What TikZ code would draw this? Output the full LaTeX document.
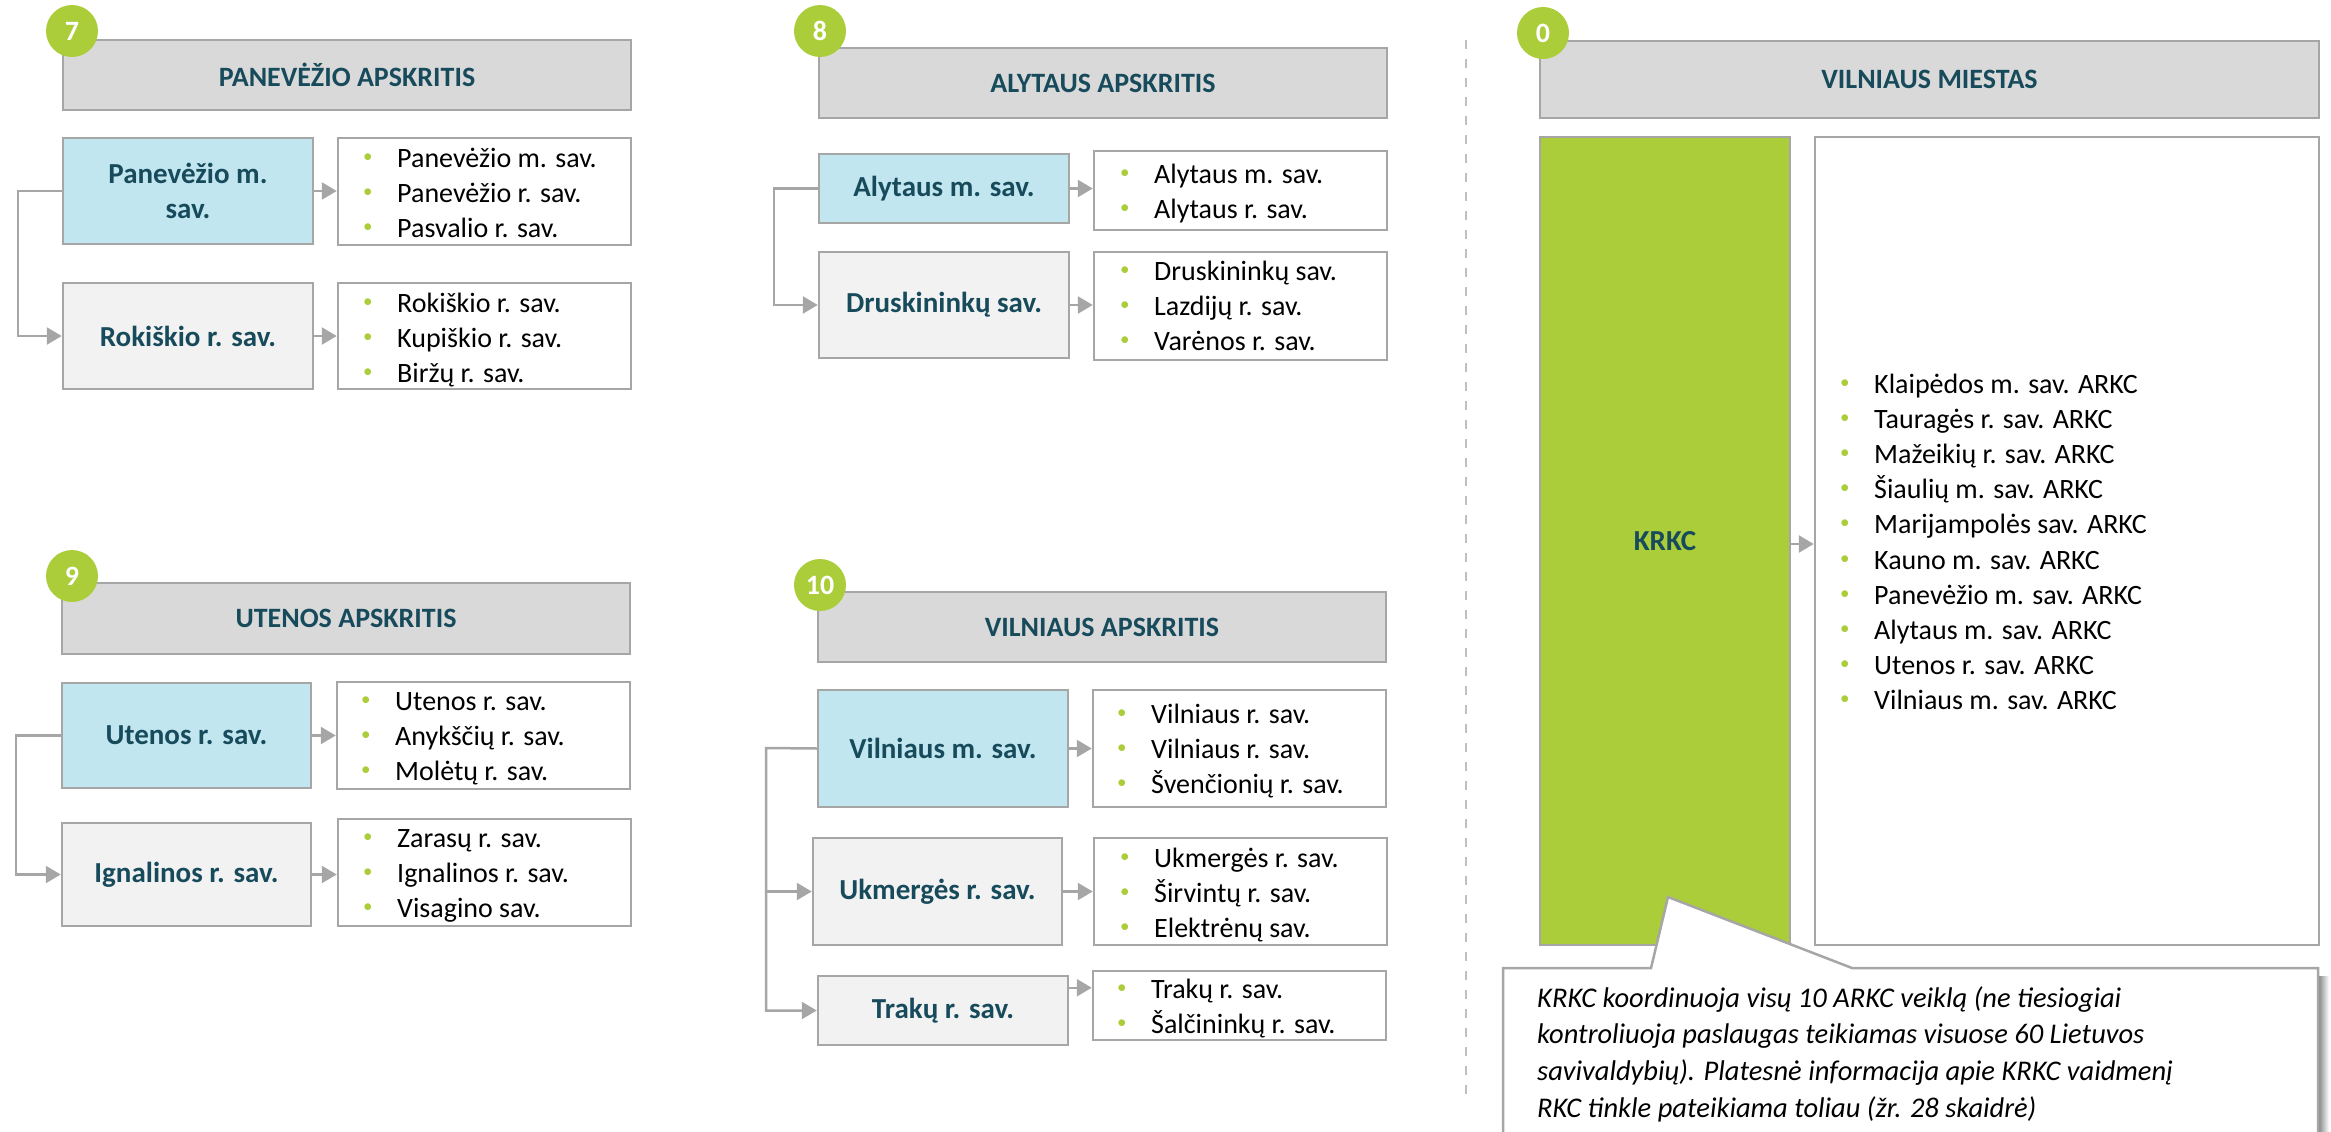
\documentclass[tikz,border=0pt]{standalone}
\usepackage{fontspec}
\setmainfont{Carlito}
\usetikzlibrary{arrows.meta}
\definecolor{kgreen}{HTML}{ABCD3A}
\definecolor{kteal}{HTML}{174B5C}
\definecolor{kline}{HTML}{A6A6A6}
\definecolor{khead}{HTML}{D9D9D9}
\definecolor{kblue}{HTML}{C2E6EF}
\definecolor{kgray}{HTML}{F2F2F2}
\definecolor{kdash}{HTML}{BFBFBF}
\newcommand\placebox[7]{\node[#1, minimum width={(#5)-(#3)}, minimum height={(#6)-(#4)}] (#2) at ({((#3)+(#5))/2},{((#4)+(#6))/2}) {#7};}
\newcommand\bul{\makebox[34pt][l]{\raisebox{5pt}{\textcolor{kgreen}{\fontsize{19}{19}\selectfont •}}}}
\tikzset{
  frame/.style={draw=kline, line width=2.5pt, inner sep=0pt},
  head/.style={frame, fill=khead, text=kteal, font=\bfseries\fontsize{28}{34}\selectfont},
  mainbox/.style={frame, fill=kblue, text=kteal, align=center, font=\bfseries\fontsize{29}{35}\selectfont},
  subbox/.style={frame, fill=kgray, text=kteal, align=center, font=\bfseries\fontsize{29}{35}\selectfont},
  listbox/.style={frame, fill=white},
  lst/.style={inner sep=0pt, anchor=base west, text=black, font=\fontsize{28}{35}\selectfont},
  badge/.style={circle, fill=kgreen, minimum size=52pt, inner sep=0pt, text=white, font=\bfseries\fontsize{28}{28}\selectfont},
  arr/.style={draw=kline, line width=2.5pt, -{Triangle[length=15pt,width=17pt]}},
}
\begin{document}
\begin{tikzpicture}[x=1pt, y=-1pt]
\useasboundingbox (0,0) rectangle (2331,1132);
\clip (0,0) rectangle (2331,1132);

% divider
\draw[kdash, line width=2.5pt, dash pattern=on 9pt off 10pt] (1466,40) -- (1466,1095);

% ---------- Panevezio ----------
\placebox{head}{hp}{63}{40}{631}{110}{PANEVĖŽIO APSKRITIS}
\node[badge] (b7) at (72,31) {7};
\placebox{mainbox}{pm}{63}{138}{313}{244}{Panevėžio m.\\sav.}
\placebox{listbox}{pml}{338}{138}{631}{245}{}
\placebox{subbox}{rk}{63}{283}{313}{389}{Rokiškio r. sav.}
\placebox{listbox}{rkl}{338}{283}{631}{389}{}
\node[lst] (pmt) at (363,167) {\begin{tabular}[t]{@{}l@{}}\bul Panevėžio m. sav.\\\bul Panevėžio r. sav.\\\bul Pasvalio r. sav.\end{tabular}};
\node[lst] (rkt) at (363,312) {\begin{tabular}[t]{@{}l@{}}\bul Rokiškio r. sav.\\\bul Kupiškio r. sav.\\\bul Biržų r. sav.\end{tabular}};
\draw[arr] (pm.west) -- ++(-44,0) |- (rk.west);
\draw[arr] (pm.east) -- (pm.east -| pml.west);
\draw[arr] (rk.east) -- (rk.east -| rkl.west);

% ---------- Alytaus ----------
\placebox{head}{ha}{819}{48}{1387}{118}{ALYTAUS APSKRITIS}
\node[badge] (b8) at (820,31) {8};
\placebox{mainbox}{am}{819}{154}{1069}{223}{Alytaus m. sav.}
\placebox{listbox}{aml}{1094}{151}{1387}{230}{}
\placebox{subbox}{dr}{819}{252}{1069}{358}{Druskininkų sav.}
\placebox{listbox}{drl}{1094}{252}{1387}{360}{}
\node[lst] (amt) at (1120,183) {\begin{tabular}[t]{@{}l@{}}\bul Alytaus m. sav.\\\bul Alytaus r. sav.\end{tabular}};
\node[lst] (drt) at (1120,280) {\begin{tabular}[t]{@{}l@{}}\bul Druskininkų sav.\\\bul Lazdijų r. sav.\\\bul Varėnos r. sav.\end{tabular}};
\draw[arr] (am.west) -- ++(-44,0) |- (dr.west);
\draw[arr] (am.east) -- (am.east -| aml.west);
\draw[arr] (dr.east) -- (dr.east -| drl.west);

% ---------- Utenos ----------
\placebox{head}{hu}{62}{583}{630}{654}{UTENOS APSKRITIS}
\node[badge] (b9) at (72,576) {9};
\placebox{mainbox}{ut}{62}{683}{311}{788}{Utenos r. sav.}
\placebox{listbox}{utl}{337}{682}{630}{789}{}
\placebox{subbox}{ig}{62}{823}{311}{926}{Ignalinos r. sav.}
\placebox{listbox}{igl}{338}{819}{631}{926}{}
\node[lst] (utt) at (361,710) {\begin{tabular}[t]{@{}l@{}}\bul Utenos r. sav.\\\bul Anykščių r. sav.\\\bul Molėtų r. sav.\end{tabular}};
\node[lst] (igt) at (363,847) {\begin{tabular}[t]{@{}l@{}}\bul Zarasų r. sav.\\\bul Ignalinos r. sav.\\\bul Visagino sav.\end{tabular}};
\draw[arr] (ut.west) -- ++(-45,0) |- (ig.west);
\draw[arr] (ut.east) -- (ut.east -| utl.west);
\draw[arr] (ig.east) -- (ig.east -| igl.west);

% ---------- Vilniaus apskritis ----------
\placebox{head}{hv}{818}{592}{1386}{662}{VILNIAUS APSKRITIS}
\node[badge] (b10) at (820,585) {10};
\placebox{mainbox}{vm}{818}{690}{1068}{807}{Vilniaus m. sav.}
\placebox{listbox}{vml}{1093}{690}{1386}{807}{}
\placebox{subbox}{uk}{813}{838}{1062}{945}{Ukmergės r. sav.}
\placebox{listbox}{ukl}{1094}{838}{1387}{945}{}
\placebox{subbox}{tr}{818}{976}{1068}{1045}{Trakų r. sav.}
\placebox{listbox}{trl}{1093}{971}{1386}{1040}{}
\node[lst] (vmt) at (1117,723) {\begin{tabular}[t]{@{}l@{}}\bul Vilniaus r. sav.\\\bul Vilniaus r. sav.\\\bul Švenčionių r. sav.\end{tabular}};
\node[lst] (ukt) at (1120,867) {\begin{tabular}[t]{@{}l@{}}\bul Ukmergės r. sav.\\\bul Širvintų r. sav.\\\bul Elektrėnų sav.\end{tabular}};
\node[lst] (trt) at (1117,998) {\begin{tabular}[t]{@{}l@{}}\bul Trakų r. sav.\\\bul Šalčininkų r. sav.\end{tabular}};
\coordinate (vbus) at (766,748);
\draw[arr] (vm.west) -- (vbus) |- (tr.west);
\draw[arr] (vbus |- uk.west) -- (uk.west);
\draw[arr] (vm.east) -- (vm.east -| vml.west);
\draw[arr] (uk.east) -- (uk.east -| ukl.west);
\draw[arr] ([yshift=-13pt]tr.north east) -- ([yshift=-13pt]tr.north east -| trl.west);

% ---------- Vilniaus miestas ----------
\placebox{head}{hm}{1540}{41}{2319}{118}{VILNIAUS MIESTAS}
\node[badge] (b0) at (1543,33) {0};
\placebox{frame, fill=kgreen, text=kteal, font=\bfseries\fontsize{29}{35}\selectfont}{krkc}{1540}{137}{1790}{945}{KRKC}
\placebox{listbox}{wb}{1815}{137}{2319}{945}{}
\node[lst] (wbt) at (1840,393) {\fontsize{28}{35.2}\selectfont\begin{tabular}[t]{@{}l@{}}\bul Klaipėdos m. sav. ARKC\\\bul Tauragės r. sav. ARKC\\\bul Mažeikių r. sav. ARKC\\\bul Šiaulių m. sav. ARKC\\\bul Marijampolės sav. ARKC\\\bul Kauno m. sav. ARKC\\\bul Panevėžio m. sav. ARKC\\\bul Alytaus m. sav. ARKC\\\bul Utenos r. sav. ARKC\\\bul Vilniaus m. sav. ARKC\end{tabular}};
\draw[arr] (krkc.east |- 0,544) -- (wb.west |- 0,544);

% callout
\shade[left color=black!45, right color=white] (2319,976) rectangle (2329,1140);
\draw[kline, line width=2.5pt, fill=white, line join=miter] (1503,968) -- (1651,968) -- (1668,897) -- (1852,968) -- (2318,968) -- (2318,1150) -- (1503,1150) -- cycle;
\node[inner sep=0pt, anchor=base west, text=black, font=\itshape\fontsize{28.5}{36.7}\selectfont] (note) at (1537,1007) {\begin{tabular}[t]{@{}l@{}}KRKC koordinuoja visų 10 ARKC veiklą (ne tiesiogiai\\kontroliuoja paslaugas teikiamas visuose 60 Lietuvos\\savivaldybių). Platesnė informacija apie KRKC vaidmenį\\RKC tinkle pateikiama toliau (žr. 28 skaidrė)\end{tabular}};
\end{tikzpicture}
\end{document}
